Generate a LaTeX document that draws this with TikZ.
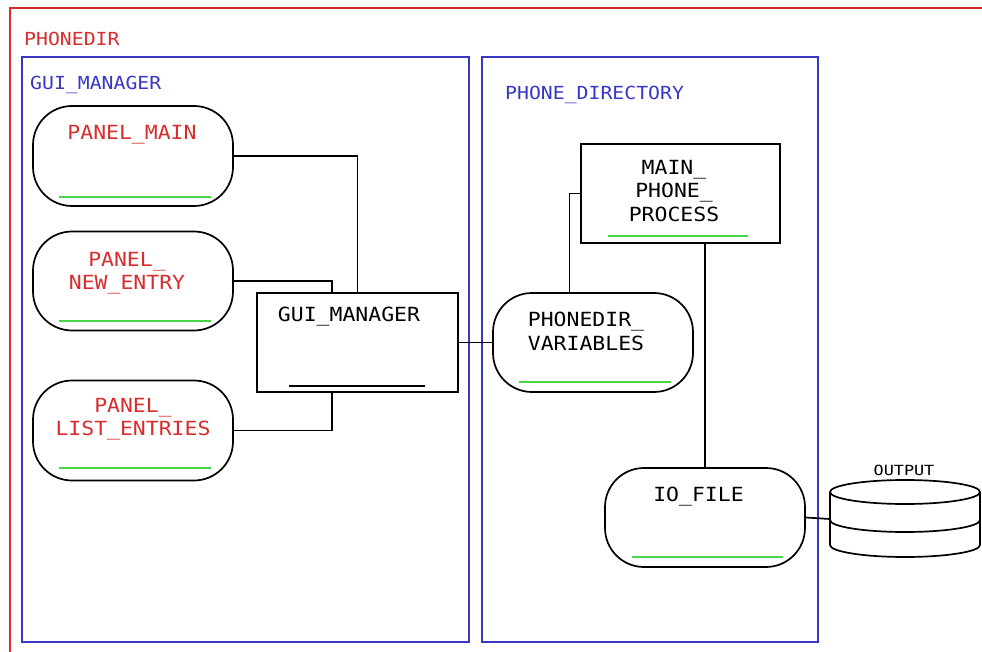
\documentclass[tikz,border=0pt]{standalone}
\usepackage{fontspec}
\newfontfamily\diafont[FakeStretch=1.1]{DejaVu Sans Mono}
\newfontfamily\diskfont[FakeStretch=1.2]{DejaVu Sans Mono}
\usetikzlibrary{calc}
\definecolor{pkgred}{RGB}{215,45,45}
\definecolor{pkgblue}{RGB}{55,55,195}
\definecolor{okgreen}{RGB}{70,215,70}
\begin{document}
\begin{tikzpicture}[x=1pt,y=-1pt,
  outline/.style={draw=black, line width=1.7pt},
  stadium/.style={outline, rounded corners=39pt, minimum width=200pt, minimum height=100pt, inner sep=0pt},
  procbox/.style={outline, rectangle, minimum width=200pt, minimum height=99pt, inner sep=0pt},
  caption/.style={font=\fontsize{19.5}{23.5}\selectfont\diafont, align=center, anchor=north, inner sep=0pt},
  pkgtitle/.style={font=\fontsize{18}{22}\selectfont\diafont, anchor=base west, inner sep=0pt},
  pkgframe/.style={draw=pkgblue, line width=2pt},
  link/.style={draw=black, line width=1.7pt},
  greenbar/.style={draw=okgreen, line width=2pt},
  blackbar/.style={draw=black, line width=1.7pt}
]
\useasboundingbox (0,0) rectangle (982,652);

% outer package
\draw[pkgred, line width=2pt] (982,8) -- (9.5,8) -- (9.5,652);
\node[pkgtitle, text=pkgred] (lblphonedir) at (24,46) {PHONEDIR};

% sub-packages
\draw[pkgframe] (21.5,57.5) rectangle (469,642);
\node[pkgtitle, text=pkgblue] (lblgui) at (30,90) {GUI\_MANAGER};
\draw[pkgframe] (482,57.5) rectangle (818,642);
\node[pkgtitle, text=pkgblue] (lblpd) at (505,100) {PHONE\_DIRECTORY};

% GUI_MANAGER contents
\node[stadium] (pmain) at (133,156) {};
\node[caption, text=pkgred] (tpmain) at (132,125) {PANEL\_MAIN};
\draw[greenbar] (59,197) -- (211,197);

\node[stadium, minimum height=99pt] (pnew) at (133,281) {};
\node[caption, text=pkgred] (tpnew) at (127,252) {PANEL\_\\NEW\_ENTRY};
\draw[greenbar] (59,321) -- (211,321);

\node[stadium] (plist) at (133,430.5) {};
\node[caption, text=pkgred] (tplist) at (133,398) {PANEL\_\\LIST\_ENTRIES};
\draw[greenbar] (59,468) -- (211,468);

\node[procbox, minimum width=201pt] (guibox) at (357.5,342.5) {};
\node[caption] (tguibox) at (349,307) {GUI\_MANAGER};
\draw[blackbar] (289,386) -- (425,386);

% PHONE_DIRECTORY contents
\node[procbox, minimum width=199pt] (mpp) at (680.5,193.5) {};
\node[caption] (tmpp) at (674,160) {MAIN\_\\PHONE\_\\PROCESS};
\draw[greenbar] (608,236) -- (748,236);

\node[stadium, minimum height=99pt] (pvars) at (593,342.5) {};
\node[caption] (tpvars) at (586,312) {PHONEDIR\_\\VARIABLES};
\draw[greenbar] (519,382) -- (671,382);

\node[stadium, minimum height=99pt] (iofile) at (705,517.5) {};
\node[caption] (tiofile) at (698.5,487) {IO\_FILE};
\draw[greenbar] (632,557) -- (783,557);

% output store
\node[minimum width=150pt, minimum height=78pt, inner sep=0pt] (disk) at (905,519) {};
\draw[outline] (905,492) ellipse [x radius=75, y radius=12];
\draw[outline] (830,492) -- (830,545)
  .. controls (830,551.6) and (863.6,557) .. (905,557)
  .. controls (946.4,557) and (980,551.6) .. (980,545) -- (980,492);
\draw[outline] (830,520)
  .. controls (830,526.6) and (863.6,532) .. (905,532)
  .. controls (946.4,532) and (980,526.6) .. (980,520);
\node[font=\fontsize{14}{16}\selectfont\diskfont, anchor=north, inner sep=0pt] (tdisk) at (904,465) {OUTPUT};

% connectors
\draw[link] (pmain.east) -| (guibox.north);
\draw[link] (pnew.east) -| ([xshift=-25.5pt]guibox.north);
\draw[link] (plist.east) -| ([xshift=-25.5pt]guibox.south);
\draw[link] (guibox.east) -- (pvars.west);
\draw[link] (mpp.west) -| ([xshift=-23.5pt]pvars.north);
\draw[link] (mpp.south -| iofile.north) -- (iofile.north);
\draw[link] (iofile.east) -- (disk.west);
\end{tikzpicture}
\end{document}
